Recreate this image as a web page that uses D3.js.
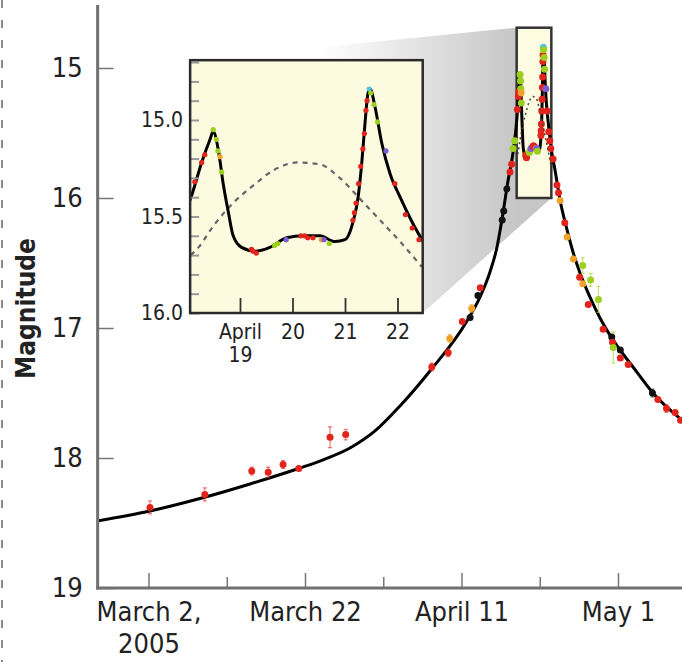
<!DOCTYPE html>
<html>
<head>
<meta charset="utf-8">
<script src="https://cdn.jsdelivr.net/npm/d3@7"></script>
<style>
body { margin: 0; background: #fff; }
svg { display: block; }
text { font-family: "DejaVu Sans Condensed", "DejaVu Sans", sans-serif; fill: #222; }
</style>
</head>
<body>
<svg id="chart" width="682" height="662"></svg>
<script>
// time is in days counted from 2005 March 2 (0h)
var xTicks = [0, 10, 20, 30, 40, 50, 60];
var xTickLabels = [["March 2,", "2005"], [], ["March 22"], [], ["April 11"], [], ["May 1"]];
var yTicks = [15, 16, 17, 18, 19];

var insetXTicks = [48, 49, 50, 51];
var insetXLabels = [["April", "19"], ["20"], ["21"], ["22"]];
var insetYLabels = [15.0, 15.5, 16.0];
var insetYTicks = [14.7, 14.8, 14.9, 15.0, 15.1, 15.2, 15.3, 15.4, 15.5, 15.6, 15.7, 15.8, 15.9, 16.0];

// zoomed window (days, magnitude)
var zoomT = [47.05, 51.48];
var zoomMag = [14.69, 16.0];

// binary-lens model curve [day, mag]
var modelCurve = [
  [-6.6, 18.485], [0.19, 18.408], [6.58, 18.312], [12.97, 18.200], [19.36, 18.077], [22.56, 18.008],
  [25.75, 17.923], [28.95, 17.792], [32.14, 17.600], [35.97, 17.331], [40.70, 16.946], [42.36, 16.762],
  [43.64, 16.569], [44.54, 16.377], [45.18, 16.162], [45.94, 15.869], [46.58, 15.654],
  [47.08, 15.39], [47.27, 15.22], [47.43, 15.10], [47.49, 15.06],
  [47.59, 15.16], [47.68, 15.33], [47.78, 15.48], [47.87, 15.60], [48.03, 15.66], [48.29, 15.68],
  [48.57, 15.66], [48.89, 15.61], [49.21, 15.60], [49.52, 15.60], [49.81, 15.63], [50.0, 15.62],
  [50.16, 15.52], [50.25, 15.40], [50.32, 15.22], [50.38, 15.02], [50.44, 14.86], [50.48, 14.84],
  [50.57, 14.93], [50.70, 15.12], [50.86, 15.28], [51.05, 15.40], [51.30, 15.54], [51.49, 15.63],
  [51.95, 15.785], [52.59, 16.015], [53.36, 16.215], [54.25, 16.415], [55.14, 16.577], [56.42, 16.762],
  [57.70, 16.923], [59.62, 17.115], [61.92, 17.300], [64.47, 17.50], [68.3, 17.715]
];

// single-lens curve (dashed, inset)
var singleLens = [
  [47.06, 15.70], [47.21, 15.66], [47.49, 15.55], [47.87, 15.43], [48.25, 15.34], [48.64, 15.26],
  [49.11, 15.22], [49.52, 15.23], [49.90, 15.30], [50.29, 15.41], [50.67, 15.52], [51.05, 15.63],
  [51.46, 15.76]
];

// observations [day, mag, error, observatory]
var observations = [
  [0.19, 18.38, 0.05, "r"], [7.2, 18.28, 0.05, "r"], [13.2, 18.10, 0.03, "r"], [15.3, 18.11, 0.04, "r"],
  [17.2, 18.05, 0.03, "r"], [19.2, 18.08, 0.02, "r"], [23.2, 17.84, 0.08, "r"], [25.2, 17.82, 0.04, "r"],
  [36.2, 17.30, 0.03, "r"], [38.3, 17.19, 0.03, "r"], [38.5, 17.08, 0.03, "o"], [40.1, 16.95, 0.02, "r"],
  [41.1, 16.92, 0.02, "k"], [41.3, 16.85, 0.03, "o"], [42.1, 16.75, 0.02, "k"], [42.4, 16.69, 0.02, "r"],
  [45.2, 16.17, 0.02, "k"], [45.4, 16.10, 0.02, "k"], [45.8, 15.93, 0.02, "k"], [46.2, 15.80, 0.02, "r"],
  [46.4, 15.74, 0.02, "r"], [46.6, 15.62, 0.02, "g"], [46.8, 15.56, 0.02, "g"],
  [47.14, 15.32, 0.01, "r"], [47.27, 15.22, 0.01, "r"], [47.33, 15.18, 0.01, "r"], [47.49, 15.05, 0.01, "g"],
  [47.55, 15.10, 0.01, "g"], [47.58, 15.16, 0.01, "g"], [47.62, 15.19, 0.01, "o"], [47.65, 15.27, 0.01, "g"],
  [48.22, 15.67, 0.01, "r"], [48.25, 15.68, 0.01, "r"], [48.31, 15.69, 0.01, "r"], [48.66, 15.65, 0.01, "g"],
  [48.72, 15.64, 0.01, "g"], [48.88, 15.62, 0.01, "b"], [49.16, 15.60, 0.01, "r"], [49.23, 15.60, 0.01, "r"],
  [49.29, 15.61, 0.01, "r"], [49.39, 15.61, 0.01, "r"], [49.55, 15.62, 0.01, "o"], [49.60, 15.62, 0.01, "b"],
  [49.70, 15.64, 0.01, "g"], [50.15, 15.52, 0.01, "r"], [50.18, 15.48, 0.01, "r"], [50.21, 15.43, 0.01, "r"],
  [50.26, 15.33, 0.01, "r"], [50.30, 15.24, 0.01, "r"], [50.34, 15.15, 0.01, "r"], [50.37, 15.07, 0.01, "r"],
  [50.40, 14.95, 0.01, "r"], [50.42, 14.90, 0.01, "r"], [50.46, 14.84, 0.01, "c"], [50.49, 14.86, 0.01, "g"],
  [50.55, 14.92, 0.01, "g"], [50.62, 15.01, 0.01, "g"], [50.78, 15.16, 0.01, "b"], [50.95, 15.33, 0.01, "r"],
  [51.15, 15.49, 0.01, "r"], [51.28, 15.56, 0.01, "r"], [51.41, 15.62, 0.01, "r"],
  [51.7, 15.70, 0.02, "r"], [52.2, 15.90, 0.02, "r"], [52.4, 15.96, 0.02, "r"], [52.6, 16.02, 0.02, "o"],
  [53.2, 16.19, 0.02, "r"], [53.5, 16.30, 0.02, "o"], [54.3, 16.47, 0.02, "o"], [55.5, 16.52, 0.06, "g"],
  [55.1, 16.61, 0.02, "r"], [56.5, 16.63, 0.05, "g"], [55.5, 16.66, 0.02, "o"], [57.5, 16.78, 0.10, "g"],
  [56.2, 16.82, 0.02, "r"], [58.1, 17.01, 0.02, "r"], [59.2, 17.07, 0.02, "k"], [59.3, 17.11, 0.02, "r"],
  [59.4, 17.15, 0.12, "g"], [60.3, 17.17, 0.02, "k"], [60.3, 17.23, 0.02, "r"], [61.3, 17.28, 0.02, "r"],
  [64.4, 17.50, 0.03, "k"], [65.1, 17.55, 0.02, "r"], [66.2, 17.62, 0.03, "r"], [67.3, 17.65, 0.02, "r"],
  [68.0, 17.71, 0.02, "r"]
];

var colors = { r: "#e2241c", k: "#111111", o: "#f0a22c", g: "#9cd01e", b: "#7a5ed0", c: "#52c2e6" };

var svg = d3.select("#chart");

var x = d3.scaleLinear().domain([0, 60]).range([148.5, 618]);
var y = d3.scaleLinear().domain([15, 19]).range([68, 588]);
var xi = d3.scaleLinear().domain([48, 51]).range([240, 397.5]);
var yi = d3.scaleLinear().domain([15, 16]).range([120, 313]);

var defs = svg.append("defs");
defs.append("clipPath").attr("id", "clipMain")
  .append("rect").attr("x", x(-6.5)).attr("y", 0).attr("width", 682 - x(-6.5)).attr("height", y(19));
defs.append("clipPath").attr("id", "clipBox")
  .append("rect").attr("x", x(zoomT[0])).attr("y", y(zoomMag[0]))
  .attr("width", x(zoomT[1]) - x(zoomT[0])).attr("height", y(zoomMag[1]) - y(zoomMag[0]));
defs.append("clipPath").attr("id", "clipInset")
  .append("rect").attr("x", xi(zoomT[0])).attr("y", yi(zoomMag[0]))
  .attr("width", xi(zoomT[1]) - xi(zoomT[0])).attr("height", yi(zoomMag[1]) - yi(zoomMag[0]));

var grad = defs.append("linearGradient").attr("id", "wedge")
  .attr("gradientUnits", "userSpaceOnUse")
  .attr("x1", 320).attr("y1", 0).attr("x2", x(zoomT[0])).attr("y2", 0);
grad.append("stop").attr("offset", "0").attr("stop-color", "#ffffff");
grad.append("stop").attr("offset", "1").attr("stop-color", "#c6c6c6");

// dashed page edge
svg.append("line").attr("x1", 2).attr("x2", 2).attr("y1", 0).attr("y2", 662)
  .attr("stroke", "#8a8a8a").attr("stroke-width", 2).attr("stroke-dasharray", "8,12");

// zoom wedge
var wedge = [
  [xi(zoomT[0]), yi(zoomMag[0])],
  [x(zoomT[0]), y(zoomMag[0])],
  [x(zoomT[1]), y(zoomMag[1])],
  [xi(zoomT[1]), yi(zoomMag[1])]
];
svg.append("polygon").attr("points", wedge.map(function(p){ return p.join(","); }).join(" "))
  .attr("fill", "url(#wedge)");

// zoom box in main panel
svg.append("rect")
  .attr("x", x(zoomT[0])).attr("y", y(zoomMag[0]))
  .attr("width", x(zoomT[1]) - x(zoomT[0])).attr("height", y(zoomMag[1]) - y(zoomMag[0]))
  .attr("fill", "#fdfbe0").attr("stroke", "#333").attr("stroke-width", 2.5);

var mainLine = d3.line().x(function(d){ return x(d[0]); }).y(function(d){ return y(d[1]); })
  .curve(d3.curveMonotoneX);

var plot = svg.append("g").attr("clip-path", "url(#clipMain)");

svg.append("path").datum(singleLens).attr("clip-path", "url(#clipBox)")
  .attr("d", mainLine).attr("fill", "none").attr("stroke", "#444")
  .attr("stroke-width", 1.5).attr("stroke-dasharray", "2,3");

plot.append("path").datum(modelCurve).attr("d", mainLine)
  .attr("fill", "none").attr("stroke", "#000").attr("stroke-width", 3);

plot.selectAll(".err").data(observations).enter().append("line")
  .attr("class", "err")
  .attr("x1", function(d){ return x(d[0]); }).attr("x2", function(d){ return x(d[0]); })
  .attr("y1", function(d){ return y(d[1] - d[2]); }).attr("y2", function(d){ return y(d[1] + d[2]); })
  .attr("stroke", function(d){ return colors[d[3]]; }).attr("stroke-opacity", 0.6).attr("stroke-width", 1.2);

plot.selectAll(".cap").data(observations.filter(function(d){ return d[2] >= 0.03; })).enter().append("path")
  .attr("class", "cap")
  .attr("d", function(d){
    var cx = x(d[0]), a = y(d[1] - d[2]), b = y(d[1] + d[2]);
    return "M" + (cx - 2) + "," + a + "H" + (cx + 2) + "M" + (cx - 2) + "," + b + "H" + (cx + 2);
  })
  .attr("stroke", function(d){ return colors[d[3]]; }).attr("stroke-opacity", 0.6).attr("stroke-width", 1.2);

plot.selectAll(".pt").data(observations).enter().append("circle")
  .attr("class", "pt")
  .attr("cx", function(d){ return x(d[0]); }).attr("cy", function(d){ return y(d[1]); })
  .attr("r", 3.5).attr("fill", function(d){ return colors[d[3]]; });

// main axes
var yAxis = svg.append("g").attr("transform", "translate(" + x(-6.5) + ",0)")
  .call(d3.axisLeft(y).tickValues(yTicks).tickSize(-16).tickPadding(15).tickFormat(d3.format("d")));
yAxis.select(".domain").remove();
yAxis.selectAll(".tick line").attr("stroke", "#777").attr("stroke-width", 1.5);
yAxis.selectAll(".tick text").style("font-size", "27px").attr("fill", "#222");

var xAxis = svg.append("g").attr("transform", "translate(0," + y(19) + ")")
  .call(d3.axisBottom(x).tickValues(xTicks).tickSize(-15).tickFormat(""));
xAxis.select(".domain").remove();
xAxis.selectAll(".tick line").attr("stroke", "#777").attr("stroke-width", 1.5)
  .attr("y2", function(d, i){ return xTickLabels[i].length ? -15 : -11; });
xAxis.selectAll(".tick").each(function(d, i){
  var t = d3.select(this).append("text").attr("y", 33).attr("text-anchor", "middle")
    .style("font-size", "27px").attr("fill", "#222");
  xTickLabels[i].forEach(function(s, j){
    t.append("tspan").attr("x", 0).attr("dy", j ? 32 : 0).text(s);
  });
});

svg.append("line").attr("x1", x(-6.5)).attr("x2", x(-6.5)).attr("y1", 5).attr("y2", y(19) + 1.5)
  .attr("stroke", "#707070").attr("stroke-width", 3);
svg.append("line").attr("x1", x(-6.5) - 1.5).attr("x2", 682).attr("y1", y(19)).attr("y2", y(19))
  .attr("stroke", "#707070").attr("stroke-width", 3);

svg.append("text").attr("transform", "translate(35," + y(16.85) + ") rotate(-90)")
  .attr("text-anchor", "middle").style("font-size", "26px").style("font-weight", "bold")
  .attr("fill", "#111").text("Magnitude");

// inset
var inset = svg.append("g");
inset.append("rect")
  .attr("x", xi(zoomT[0])).attr("y", yi(zoomMag[0]))
  .attr("width", xi(zoomT[1]) - xi(zoomT[0])).attr("height", yi(zoomMag[1]) - yi(zoomMag[0]))
  .attr("fill", "#fdfbdf");

var insetLine = d3.line().x(function(d){ return xi(d[0]); }).y(function(d){ return yi(d[1]); })
  .curve(d3.curveMonotoneX);
var inPlot = inset.append("g").attr("clip-path", "url(#clipInset)");

inPlot.append("path").datum(singleLens).attr("d", insetLine)
  .attr("fill", "none").attr("stroke", "#666").attr("stroke-width", 2.2).attr("stroke-dasharray", "5,5");
inPlot.append("path").datum(modelCurve).attr("d", insetLine)
  .attr("fill", "none").attr("stroke", "#000").attr("stroke-width", 3);
inPlot.selectAll(".ipt").data(observations).enter().append("circle")
  .attr("class", "ipt")
  .attr("cx", function(d){ return xi(d[0]); }).attr("cy", function(d){ return yi(d[1]); })
  .attr("r", 2.6).attr("fill", function(d){ return colors[d[3]]; });

var iy = inset.append("g").attr("transform", "translate(" + xi(zoomT[0]) + ",0)")
  .call(d3.axisLeft(yi).tickValues(insetYTicks).tickSize(-9).tickPadding(7)
    .tickFormat(function(d){ return insetYLabels.indexOf(+d.toFixed(1)) >= 0 ? d.toFixed(1) : ""; }));
iy.select(".domain").remove();
iy.selectAll(".tick line").attr("stroke", "#999").attr("stroke-width", 2);
iy.selectAll(".tick text").style("font-size", "21px").attr("fill", "#222");

var ix = inset.append("g").attr("transform", "translate(0," + yi(zoomMag[1]) + ")")
  .call(d3.axisBottom(xi).tickValues(insetXTicks).tickSize(-15).tickFormat(""));
ix.select(".domain").remove();
ix.selectAll(".tick line").attr("stroke", "#333").attr("stroke-width", 1.8);
ix.selectAll(".tick").each(function(d, i){
  var t = d3.select(this).append("text").attr("y", 26).attr("text-anchor", "middle")
    .style("font-size", "21px").attr("fill", "#222");
  insetXLabels[i].forEach(function(s, j){
    t.append("tspan").attr("x", 0).attr("dy", j ? 23 : 0).text(s);
  });
});

inset.append("rect")
  .attr("x", xi(zoomT[0])).attr("y", yi(zoomMag[0]))
  .attr("width", xi(zoomT[1]) - xi(zoomT[0])).attr("height", yi(zoomMag[1]) - yi(zoomMag[0]))
  .attr("fill", "none").attr("stroke", "#2a2a2a").attr("stroke-width", 2.5);
</script>
</body>
</html>
